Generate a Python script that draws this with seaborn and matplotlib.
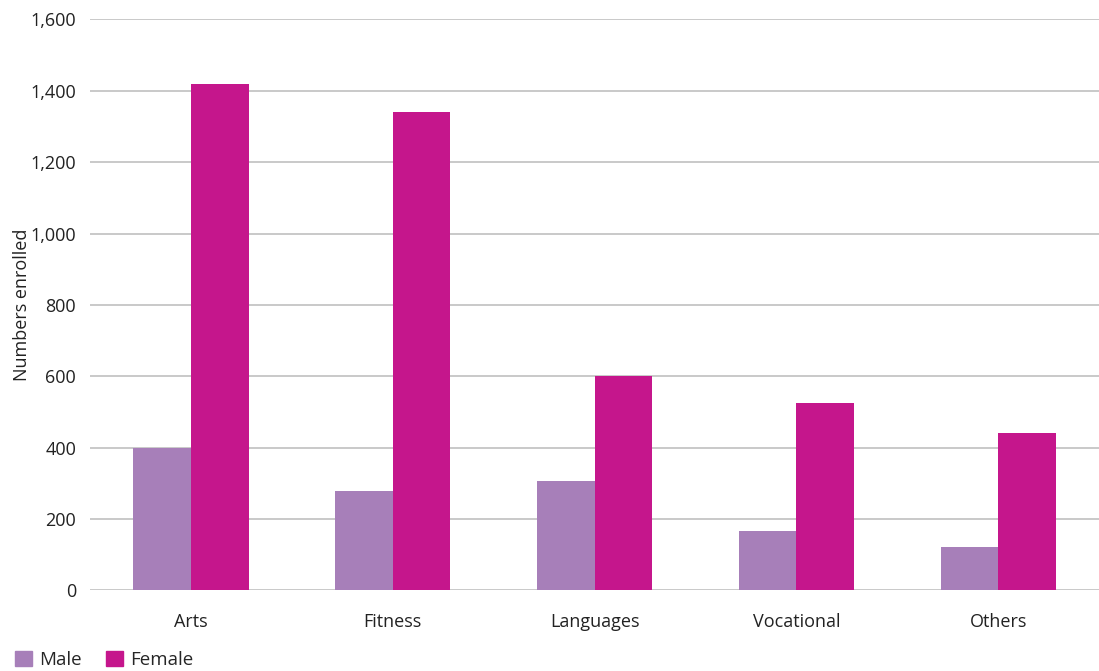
import matplotlib
matplotlib.use("Agg")
import matplotlib.pyplot as plt
import seaborn as sns
import pandas as pd
from matplotlib.ticker import FuncFormatter, MultipleLocator

# Enrolment counts by course type and sex
categories = ["Arts", "Fitness", "Languages", "Vocational", "Others"]
male = [400, 280, 308, 168, 123]
female = [1420, 1340, 600, 525, 440]
series = ["Male", "Female"]
colors = {"Male": "#A77FB9", "Female": "#C5168C"}

df = pd.DataFrame({
    "Course": categories * 2,
    "Sex": ["Male"] * len(categories) + ["Female"] * len(categories),
    "Enrolled": male + female,
})

sns.set_theme(style="white")
plt.rcParams["font.family"] = ["Open Sans", "DejaVu Sans"]

fig = plt.figure(figsize=(10.99, 6.71), dpi=100)
ax = fig.add_axes([0.082, 0.12, 0.918, 0.851])

sns.barplot(data=df, x="Course", y="Enrolled", hue="Sex", hue_order=series,
            palette=colors, width=0.57, saturation=1, ax=ax, legend=False,
            linewidth=0)

ax.set_ylim(0, 1600)
ax.yaxis.set_major_locator(MultipleLocator(200))
ax.yaxis.set_major_formatter(FuncFormatter(lambda v, p: f"{int(v):,}"))
ax.set_axisbelow(True)
ax.grid(axis="y", color="#BBBBBB", linewidth=1.1)
ax.grid(axis="x", visible=False)
for s in ax.spines.values():
    s.set_visible(False)
ax.tick_params(axis="both", length=0, labelsize=13, colors="#222222")
ax.tick_params(axis="y", pad=10)
ax.tick_params(axis="x", pad=16)
ax.set_xlabel("")
ax.set_ylabel("Numbers enrolled", fontsize=13, color="#222222")
ax.yaxis.set_label_coords(-0.059, 0.5)

handles = [plt.Rectangle((0, 0), 1, 1, color=colors[s]) for s in series]
fig.legend(handles, series, loc="lower left", bbox_to_anchor=(-0.002, -0.022),
           ncol=2, frameon=False, fontsize=13.5, handlelength=0.9,
           handleheight=0.9, handletextpad=0.4, columnspacing=1.3)

fig.savefig("out.png", dpi=100)
